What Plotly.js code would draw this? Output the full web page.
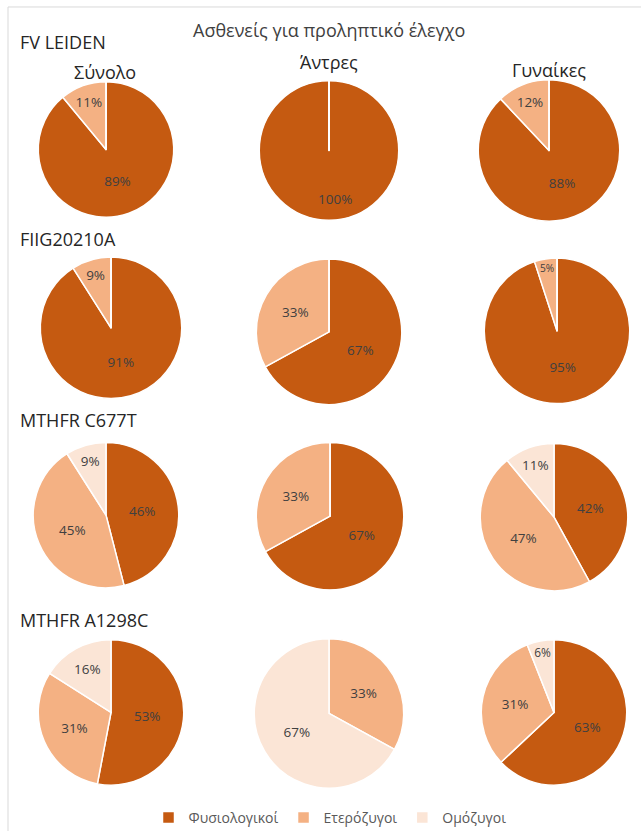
<!DOCTYPE html>
<html>
<head>
<meta charset="utf-8">
<script src="https://cdn.plot.ly/plotly-3.0.1.min.js"></script>
<style>html,body{margin:0;padding:0;background:#fff;}#chart{width:641px;height:834px;}</style>
</head>
<body>
<div id="chart"></div>
<script>
// ---- data ----
const categories = ['Φυσιολογικοί', 'Ετερόζυγοι', 'Ομόζυγοι'];
const groups = ['Σύνολο', 'Άντρες', 'Γυναίκες'];
const genes = ['FV LEIDEN', 'FIIG20210A', 'MTHFR C677T', 'MTHFR A1298C'];
const fvLeiden    = [[89, 11, 0], [100, 0, 0], [88, 12, 0]];
const fiig20210a  = [[91, 9, 0],  [67, 33, 0], [95, 5, 0]];
const mthfrC677T  = [[46, 45, 9], [67, 33, 0], [42, 47, 11]];
const mthfrA1298C = [[53, 31, 16], [0, 33, 67], [63, 31, 6]];
const chartTitle = 'Ασθενείς για προληπτικό έλεγχο';

// ---- layout / style ----
const W = 641, H = 834;
const colors = ['#C55A11', '#F4B183', '#FBE5D6'];
const rowsData = [fvLeiden, fiig20210a, mthfrC677T, mthfrA1298C];
// pixel centres and radii of each pie (row, col)
const pieGeom = [
  [[106, 150, 68], [329, 151, 70], [549, 151, 71]],
  [[111, 329, 71], [329, 333, 73], [557, 332, 73]],
  [[106, 517, 73], [330, 518, 74], [554, 519, 74]],
  [[111, 715, 73], [329, 716, 75], [554, 715, 73]]
];
const fx = x => x / W, fy = y => 1 - y / H;
const font = 'Open Sans, sans-serif';
const labelFont = {family: font, size: 13.5, color: '#404040'};

const traces = [];
const shapes = [];
const annotations = [];
rowsData.forEach((row, ri) => {
  row.forEach((vals, ci) => {
    const [cx, cy, r] = pieGeom[ri][ci];
    const full = vals.some(v => v === 100);
    traces.push({
      type: 'pie',
      labels: categories,
      values: vals,
      text: vals.map(v => (v && !full) ? v + '%' : ''),
      textinfo: 'text',
      textposition: 'inside',
      insidetextorientation: 'horizontal',
      textfont: labelFont,
      sort: false,
      direction: 'clockwise',
      rotation: 0,
      marker: {colors: colors, line: {color: '#ffffff', width: 1.5}},
      domain: {x: [fx(cx - r), fx(cx + r)], y: [fy(cy + r), fy(cy - r)]},
      showlegend: true,
      hoverinfo: 'label+percent',
      name: genes[ri] + ' – ' + groups[ci]
    });
    if (full) {
      // a 100% pie still shows the white radial seam at 12 o'clock, label sits low in the pie
      shapes.push({type: 'line', xref: 'paper', yref: 'paper',
        x0: fx(cx), x1: fx(cx), y0: fy(cy), y1: fy(cy - r - 1),
        line: {color: '#ffffff', width: 2}});
      annotations.push({text: vals.find(v => v === 100) + '%', x: fx(cx + 6), y: fy(cy + 0.7 * r),
        xref: 'paper', yref: 'paper', showarrow: false, xanchor: 'center', yanchor: 'middle', font: labelFont});
    }
  });
});

// chart border
shapes.push({type: 'line', xref: 'paper', yref: 'paper', x0: fx(8), x1: fx(8), y0: fy(7), y1: 0,
  line: {color: '#d9d9d9', width: 1}});
shapes.push({type: 'line', xref: 'paper', yref: 'paper', x0: fx(8), x1: 1, y0: fy(7), y1: fy(7),
  line: {color: '#d9d9d9', width: 1}});
shapes.push({type: 'line', xref: 'paper', yref: 'paper', x0: fx(165), x1: fx(263), y0: fy(832), y1: fy(832),
  line: {color: '#d9d9d9', width: 1}});

annotations.push({text: chartTitle, x: fx(329), y: fy(30), xref: 'paper', yref: 'paper',
  showarrow: false, xanchor: 'center', yanchor: 'middle', font: {family: font, size: 18, color: '#404040'}});
const geneY = [42, 240, 422, 622];
genes.forEach((g, i) => annotations.push({text: g, x: fx(18), y: fy(geneY[i]), xref: 'paper', yref: 'paper',
  showarrow: false, xanchor: 'left', yanchor: 'middle', font: {family: font, size: 18, color: '#262626'}}));
const groupPos = [[105, 72], [329, 62], [549, 70]];
groups.forEach((g, i) => annotations.push({text: g, x: fx(groupPos[i][0]), y: fy(groupPos[i][1]), xref: 'paper', yref: 'paper',
  showarrow: false, xanchor: 'center', yanchor: 'middle', font: {family: font, size: 18, color: '#262626'}}));

const layout = {
  width: W, height: H,
  margin: {l: 0, r: 0, t: 0, b: 0},
  paper_bgcolor: '#ffffff',
  showlegend: true,
  legend: {orientation: 'h', x: fx(330), xanchor: 'center', y: fy(821), yanchor: 'middle',
    font: {family: font, size: 14, color: '#595959'}, traceorder: 'normal', itemwidth: 30},
  annotations: annotations,
  shapes: shapes
};

Plotly.newPlot('chart', traces, layout, {displayModeBar: false, staticPlot: true});
</script>
</body>
</html>
